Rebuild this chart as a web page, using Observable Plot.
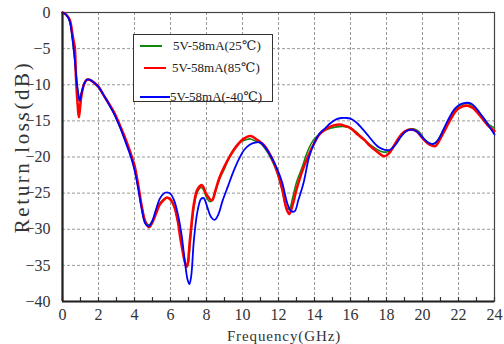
<!DOCTYPE html>
<html><head><meta charset="utf-8">
<script src="https://cdn.jsdelivr.net/npm/d3@7"></script>
<script src="https://cdn.jsdelivr.net/npm/@observablehq/plot@0.6"></script>
<style>
html,body{margin:0;padding:0;background:#fff;}
#wrap{position:relative;width:504px;height:344px;overflow:hidden;}
#legend{position:absolute;left:133px;top:34px;width:140px;height:68px;border:1.5px solid #333;background:#fff;box-sizing:border-box;font-family:"Liberation Serif","DejaVu Serif",serif;font-size:13px;color:#222;}
.sw{position:absolute;}
.lab{position:absolute;white-space:nowrap;line-height:16px;}
.title{position:absolute;font-family:"Liberation Serif","DejaVu Serif",serif;color:#333;text-align:center;white-space:nowrap;}
#ytitle{left:-88px;top:134px;width:220px;height:26px;line-height:26px;font-size:21px;letter-spacing:2.6px;transform:rotate(-90deg);}
#xtitle{left:174px;top:328px;width:220px;height:16px;line-height:16px;font-size:15px;letter-spacing:0.9px;}
</style>
</head><body>
<div id="wrap"><div id="ytitle" class="title"></div><div id="xtitle" class="title"></div><div id="legend"></div></div>
<script>
const yTitle = "Return loss(dB)";
const xTitle = "Frequency(GHz)";
const seriesNames = ["5V-58mA(25℃)", "5V-58mA(85℃)", "5V-58mA(-40℃)"];
const seriesColors = ["#118811", "#ff0000", "#0000ff"];
const seriesWidths = [1.6, 2.6, 1.8];

const xTicks = [0,2,4,6,8,10,12,14,16,18,20,22,24];
const yTicks = [0,-5,-10,-15,-20,-25,-30,-35,-40];
const minorX = [0,1,2,3,4,5,6,7,8,9,10,11,12,13,14,15,16,17,18,19,20,21,22,23,24];

const freq25 = [0,0.2,0.4,0.55,0.7,0.8,0.9,0.96,1.05,1.2,1.35,1.5,1.7,2.0,2.3,2.6,2.9,3.2,3.5,3.8,4.0,4.2,4.4,4.6,4.8,5.0,5.2,5.4,5.6,5.8,6.0,6.2,6.4,6.6,6.8,6.95,7.1,7.3,7.5,7.7,7.85,8.0,8.2,8.35,8.5,8.7,9.0,9.3,9.6,9.9,10.2,10.45,10.7,11.0,11.3,11.6,11.9,12.2,12.45,12.6,12.8,13.0,13.3,13.6,13.9,14.2,14.5,14.8,15.1,15.4,15.7,16.0,16.3,16.6,16.9,17.2,17.5,17.8,18.0,18.3,18.6,18.9,19.2,19.5,19.8,20.1,20.4,20.7,21.0,21.3,21.6,21.9,22.2,22.5,22.8,23.1,23.4,23.7,24.0];
const rl25 = [0,-0.3,-1.2,-3.6,-7.0,-9.8,-11.6,-12.2,-11.2,-9.9,-9.3,-9.3,-9.6,-10.3,-11.5,-12.8,-14.2,-15.9,-17.8,-19.8,-21.5,-24.0,-26.8,-28.8,-29.4,-28.8,-27.5,-26.4,-25.9,-25.6,-25.8,-26.8,-28.8,-31.5,-34.5,-35.0,-31.5,-27.0,-24.8,-24.2,-24.6,-25.6,-26.2,-25.8,-24.8,-23.2,-21.6,-19.8,-18.6,-17.9,-17.6,-17.5,-17.8,-18.1,-19.0,-20.3,-22.0,-24.5,-27.0,-27.2,-25.5,-23.5,-21.5,-19.3,-17.8,-17.0,-16.4,-16.1,-15.9,-15.8,-15.8,-16.0,-16.5,-17.2,-17.9,-18.5,-19.0,-19.3,-19.3,-18.9,-17.8,-16.8,-16.2,-16.1,-16.5,-17.5,-18.1,-18.1,-17.0,-15.6,-14.2,-13.2,-12.7,-12.6,-13.0,-13.8,-14.6,-15.5,-16.0];

const freq85 = [0,0.2,0.4,0.55,0.62,0.68,0.75,0.85,0.91,0.98,1.05,1.2,1.35,1.5,1.7,2.0,2.3,2.6,2.9,3.2,3.5,3.8,4.0,4.2,4.4,4.6,4.8,5.0,5.2,5.4,5.6,5.8,6.0,6.2,6.4,6.6,6.9,7.1,7.3,7.5,7.75,8.0,8.3,8.5,8.7,9.0,9.5,10.0,10.45,10.8,11.2,11.6,11.9,12.2,12.45,12.6,12.8,13.0,13.4,13.96,14.3,14.8,15.1,15.4,15.7,16.0,16.4,16.8,17.1,17.5,17.85,18.1,18.4,18.7,19.0,19.4,19.7,20.0,20.4,20.7,21.0,21.3,21.6,21.9,22.2,22.5,22.8,23.1,23.4,23.7,24.0];
const rl85 = [0,-0.3,-1.0,-3.0,-4.0,-4.8,-9.0,-13.0,-14.5,-13.0,-11.5,-9.9,-9.3,-9.3,-9.6,-10.3,-11.5,-12.7,-14.0,-15.7,-17.5,-19.6,-21.2,-23.8,-26.8,-29.0,-29.7,-29.0,-27.8,-26.6,-26.0,-25.6,-25.9,-26.8,-28.8,-32.0,-35.2,-31.0,-26.5,-24.5,-23.9,-25.2,-26.0,-24.6,-23.0,-21.3,-19.1,-17.6,-17.1,-17.6,-18.4,-20.0,-21.8,-24.4,-27.2,-27.9,-26.5,-24.5,-21.4,-18.2,-16.8,-15.9,-15.6,-15.5,-15.7,-16.0,-16.9,-17.7,-18.5,-19.3,-19.9,-19.6,-18.5,-17.3,-16.5,-16.2,-16.5,-17.4,-18.3,-18.5,-17.4,-16.0,-14.6,-13.5,-13.0,-12.9,-13.2,-14.0,-14.9,-15.8,-16.4];

const freqM40 = [0,0.2,0.4,0.55,0.7,0.8,0.9,0.96,1.05,1.2,1.35,1.5,1.7,2.0,2.3,2.6,2.9,3.2,3.5,3.8,4.0,4.2,4.4,4.6,4.8,5.0,5.2,5.4,5.6,5.8,6.0,6.2,6.4,6.6,6.8,6.95,7.05,7.15,7.3,7.5,7.7,7.85,8.0,8.25,8.45,8.65,8.9,9.2,9.5,9.8,10.1,10.4,10.7,11.0,11.3,11.6,11.9,12.2,12.5,12.7,12.9,13.1,13.4,13.7,14.0,14.3,14.6,14.9,15.2,15.5,15.8,16.1,16.4,16.7,17.0,17.3,17.6,17.9,18.2,18.5,18.8,19.1,19.4,19.7,20.0,20.3,20.6,20.9,21.2,21.5,21.8,22.1,22.4,22.7,23.0,23.3,23.6,23.9,24.0];
const rlM40 = [0,-0.3,-1.2,-3.6,-7.0,-9.8,-11.6,-12.2,-11.2,-9.9,-9.3,-9.3,-9.6,-10.3,-11.5,-12.8,-14.2,-15.9,-17.9,-20.0,-21.8,-24.3,-27.2,-29.2,-29.6,-28.8,-27.2,-25.8,-25.1,-24.9,-25.1,-26.0,-27.8,-30.5,-34.5,-37.0,-37.6,-36.5,-31.5,-27.5,-25.8,-25.7,-26.6,-28.3,-28.7,-28.0,-26.0,-24.0,-22.0,-20.3,-19.0,-18.3,-18.0,-18.0,-18.8,-20.0,-21.5,-23.5,-26.5,-27.5,-27.5,-26.0,-23.5,-20.0,-18.0,-16.7,-16.0,-15.3,-14.8,-14.6,-14.6,-14.8,-15.4,-16.2,-17.1,-18.0,-18.7,-19.0,-19.0,-18.3,-17.2,-16.4,-16.2,-16.5,-17.3,-18.0,-18.2,-17.5,-16.0,-14.5,-13.3,-12.7,-12.5,-12.6,-13.3,-14.3,-15.4,-16.5,-16.9];

const toRows = (fs, vs, s) => fs.map((f, i) => ({f, v: vs[i], s}));
const rows = [
  ...toRows(freq25, rl25, seriesNames[0]),
  ...toRows(freq85, rl85, seriesNames[1]),
  ...toRows(freqM40, rlM40, seriesNames[2])
];

const font = '"Liberation Serif","DejaVu Serif",serif';
const chart = Plot.plot({
  width: 504, height: 344,
  marginLeft: 62, marginRight: 10, marginTop: 12, marginBottom: 43,
  style: {fontFamily: font, fontSize: "16px", color: "#333", background: "#fff"},
  x: {domain: [0, 24]},
  y: {domain: [-40, 0]},
  marks: [
    Plot.gridX(xTicks, {stroke: "#999", strokeOpacity: 1, strokeDasharray: "3,2"}),
    Plot.gridY(yTicks, {stroke: "#999", strokeOpacity: 1, strokeDasharray: "3,2"}),
    Plot.frame({stroke: "#444", strokeWidth: 1.2}),
    Plot.ruleX(minorX, {y1: -40, y2: -39.45, stroke: "#333", strokeWidth: 1.2}),
    Plot.axisX(xTicks, {tickSize: 0, tickPadding: 7, label: null, fontSize: 16, fill: "#333"}),
    Plot.axisY(yTicks, {tickSize: 0, tickPadding: 12, label: null, fontSize: 16, fill: "#333"}),
    Plot.line(rows.filter(d => d.s === seriesNames[0]), {x: "f", y: "v", stroke: seriesColors[0], strokeWidth: seriesWidths[0], curve: "catmull-rom"}),
    Plot.line(rows.filter(d => d.s === seriesNames[1]), {x: "f", y: "v", stroke: seriesColors[1], strokeWidth: seriesWidths[1], curve: "catmull-rom"}),
    Plot.line(rows.filter(d => d.s === seriesNames[2]), {x: "f", y: "v", stroke: seriesColors[2], strokeWidth: seriesWidths[2], curve: "catmull-rom"}),
    Plot.ruleY([-40], {stroke: "#222", strokeWidth: 2.2}),
    Plot.ruleX([0], {stroke: "#222", strokeWidth: 2.2})
  ]
});
document.getElementById("wrap").prepend(chart);
document.getElementById("ytitle").textContent = yTitle;
document.getElementById("xtitle").textContent = xTitle;

// legend
const legend = document.getElementById("legend");
const rowsY = [11, 33, 62];
const swX = [[6, 28], [10, 32], [6, 36]];
const labX = [39, 38, 36];
seriesNames.forEach((n, i) => {
  const sw = document.createElement("div");
  sw.className = "sw";
  sw.style.left = swX[i][0] + "px";
  sw.style.width = (swX[i][1] - swX[i][0]) + "px";
  sw.style.top = (rowsY[i] - seriesWidths[i] / 2) + "px";
  sw.style.height = seriesWidths[i] + "px";
  sw.style.background = seriesColors[i];
  legend.appendChild(sw);
  const lb = document.createElement("div");
  lb.className = "lab";
  lb.style.left = labX[i] + "px";
  lb.style.top = (rowsY[i] - 8) + "px";
  lb.textContent = n;
  legend.appendChild(lb);
});
</script>
</body></html>
